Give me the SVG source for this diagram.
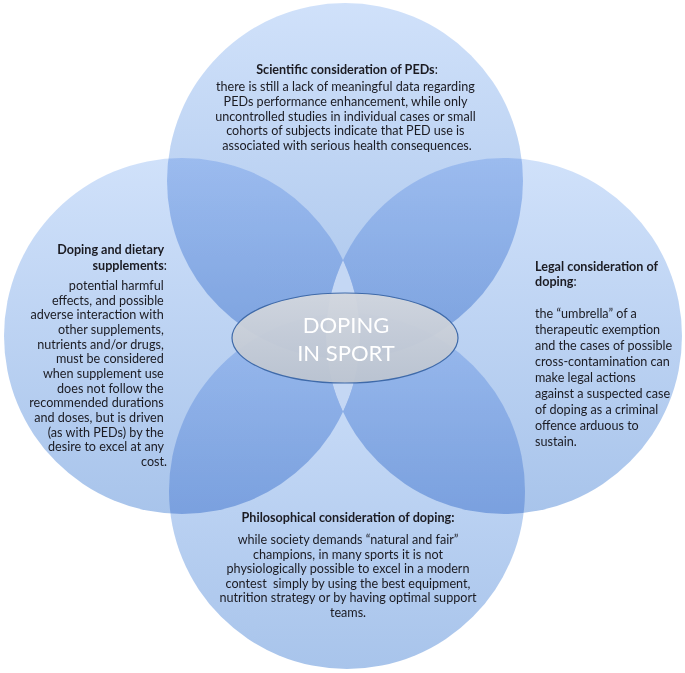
<svg xmlns="http://www.w3.org/2000/svg" width="685" height="673" viewBox="0 0 685 673">
  <defs>
    <linearGradient id="petal" x1="0" y1="0" x2="0" y2="1">
      <stop offset="0" stop-color="#d0e1fa"/>
      <stop offset="1" stop-color="#a8c4eb"/>
    </linearGradient>
    <linearGradient id="hub" x1="0" y1="0" x2="0" y2="1">
      <stop offset="0" stop-color="#d3d7de"/>
      <stop offset="1" stop-color="#bcc4d0"/>
    </linearGradient>
    <clipPath id="clip-right">
      <circle cx="504" cy="336" r="178"/>
    </clipPath>
    <style>
      .petal { fill: url(#petal); mix-blend-mode: multiply; }
      .t { font-family: Lato, "Liberation Sans", sans-serif; font-size: 12.6px; fill: #1b1b22; }
      .h { font-weight: bold; }
      .c { text-anchor: middle; }
      .r { text-anchor: end; }
      .hubtxt { font-family: Lato, "Liberation Sans", sans-serif; font-size: 22px; fill: #ffffff; text-anchor: middle; }
    </style>
  </defs>

  <rect width="685" height="673" fill="#ffffff"/>

  <!-- four overlapping petals, multiplied so the pairwise overlaps deepen -->
  <g id="petals">
    <circle class="petal" cx="345" cy="181" r="178"/>
    <circle class="petal" cx="182" cy="336" r="178"/>
    <circle class="petal" cx="504" cy="336" r="178"/>
    <circle class="petal" cx="347" cy="491" r="178"/>
    <!-- the narrow middle lens stays pale -->
    <circle cx="182" cy="336" r="178" clip-path="url(#clip-right)" fill="#c4d7f4"/>
  </g>

  <g id="top-petal">
    <text class="t c" x="347" y="74"><tspan class="h">Scientific consideration of PEDs</tspan>:</text>
    <text class="t c">
      <tspan x="347" y="91">there is still a lack of meaningful data regarding</tspan>
      <tspan x="347" y="106">PEDs performance enhancement, while only</tspan>
      <tspan x="347" y="120.5">uncontrolled studies in individual cases or small</tspan>
      <tspan x="347" y="135">cohorts of subjects indicate that PED use is</tspan>
      <tspan x="347" y="150">associated with serious health consequences.</tspan>
    </text>
  </g>

  <g id="left-petal">
    <text class="t r h">
      <tspan x="167" y="254">Doping and dietary</tspan>
      <tspan x="167" y="270">supplements<tspan font-weight="normal">:</tspan></tspan>
    </text>
    <text class="t r">
      <tspan x="167" y="290">potential harmful</tspan>
      <tspan x="167" y="305">effects, and possible</tspan>
      <tspan x="167" y="319">adverse interaction with</tspan>
      <tspan x="167" y="334">other supplements,</tspan>
      <tspan x="167" y="349">nutrients and/or drugs,</tspan>
      <tspan x="167" y="363">must be considered</tspan>
      <tspan x="167" y="378">when supplement use</tspan>
      <tspan x="167" y="393">does not follow the</tspan>
      <tspan x="167" y="407">recommended durations</tspan>
      <tspan x="167" y="422">and doses, but is driven</tspan>
      <tspan x="167" y="437">(as with PEDs) by the</tspan>
      <tspan x="167" y="451">desire to excel at any</tspan>
      <tspan x="167" y="466">cost.</tspan>
    </text>
  </g>

  <g id="right-petal">
    <text class="t h">
      <tspan x="535" y="271">Legal consideration of</tspan>
      <tspan x="535" y="286">doping<tspan font-weight="normal">:</tspan></tspan>
    </text>
    <text class="t">
      <tspan x="535" y="318">the “umbrella” of a</tspan>
      <tspan x="535" y="334">therapeutic exemption</tspan>
      <tspan x="535" y="350">and the cases of possible</tspan>
      <tspan x="535" y="366">cross-contamination can</tspan>
      <tspan x="535" y="382">make legal actions</tspan>
      <tspan x="535" y="398">against a suspected case</tspan>
      <tspan x="535" y="414">of doping as a criminal</tspan>
      <tspan x="535" y="430">offence arduous to</tspan>
      <tspan x="535" y="446">sustain.</tspan>
    </text>
  </g>

  <g id="bottom-petal">
    <text class="t c h" x="348" y="522">Philosophical consideration of doping:</text>
    <text class="t c" xml:space="preserve"><tspan x="348" y="544">while society demands “natural and fair”</tspan><tspan x="348" y="559">champions, in many sports it is not</tspan><tspan x="348" y="573">physiologically possible to excel in a modern</tspan><tspan x="348" y="588">contest  simply by using the best equipment,</tspan><tspan x="348" y="602">nutrition strategy or by having optimal support</tspan><tspan x="348" y="617">teams.</tspan></text>
  </g>

  <!-- central hub -->
  <g id="hub">
    <ellipse cx="345" cy="338" rx="113" ry="45" fill="url(#hub)" fill-opacity="0.95" stroke="#3f6aa9" stroke-width="1.2"/>
    <text class="hubtxt" x="346" y="333">DOPING</text>
    <text class="hubtxt" x="346" y="361">IN SPORT</text>
  </g>
</svg>
